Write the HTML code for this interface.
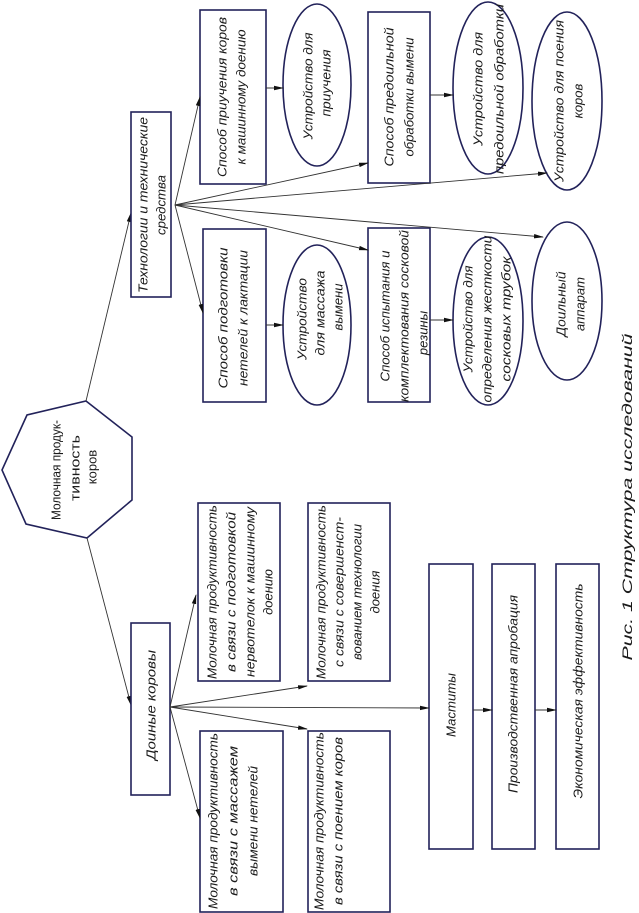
<!DOCTYPE html>
<html><head><meta charset="utf-8"><style>
html,body{margin:0;padding:0;background:#fff;}
svg{display:block;}
text{font-family:"Liberation Sans",sans-serif;font-size:13px;font-style:italic;fill:#1a1a1a;dominant-baseline:central;text-anchor:middle;}
.s{fill:none;stroke:#22225a;stroke-width:1.6;}
.l{stroke:#333;stroke-width:0.9;fill:none;}
</style></head><body>
<svg width="639" height="913" viewBox="0 0 639 913" xmlns="http://www.w3.org/2000/svg">
<defs><marker id="a" markerWidth="10" markerHeight="6" refX="9" refY="3" orient="auto" markerUnits="userSpaceOnUse"><path d="M0,0.8 L10,3 L0,5.2 z" fill="#111"/></marker></defs>

<polygon class="s" points="86,401 132,437 132,500 87,538 26,524 2,470 27,415"/>
<line class="l" x1="86" y1="401" x2="131" y2="213" marker-end="url(#a)"/>
<line class="l" x1="87" y1="538" x2="131" y2="705" marker-end="url(#a)"/>

<rect class="s" x="131" y="112" width="40" height="185"/>
<rect class="s" x="200" y="10" width="66" height="174"/>
<rect class="s" x="203" y="229" width="63" height="173"/>
<rect class="s" x="368" y="12" width="62" height="171"/>
<rect class="s" x="368" y="228" width="62" height="174"/>
<ellipse class="s" cx="317" cy="85" rx="34" ry="81"/>
<ellipse class="s" cx="317" cy="325" rx="34" ry="80"/>
<ellipse class="s" cx="488" cy="88" rx="35" ry="86"/>
<ellipse class="s" cx="488" cy="321" rx="35" ry="84"/>
<ellipse class="s" cx="567" cy="101" rx="35" ry="89"/>
<ellipse class="s" cx="567" cy="301" rx="35" ry="79"/>

<line class="l" x1="175" y1="205" x2="200" y2="97" marker-end="url(#a)"/>
<line class="l" x1="175" y1="205" x2="203" y2="313" marker-end="url(#a)"/>
<line class="l" x1="175" y1="205" x2="368" y2="163" marker-end="url(#a)"/>
<line class="l" x1="175" y1="205" x2="368" y2="250" marker-end="url(#a)"/>
<line class="l" x1="175" y1="205" x2="547" y2="173" marker-end="url(#a)"/>
<line class="l" x1="175" y1="205" x2="543" y2="237" marker-end="url(#a)"/>
<line class="l" x1="266" y1="88" x2="283" y2="88" marker-end="url(#a)"/>
<line class="l" x1="266" y1="325" x2="283" y2="325" marker-end="url(#a)"/>
<line class="l" x1="430" y1="95" x2="453" y2="95" marker-end="url(#a)"/>
<line class="l" x1="430" y1="320" x2="453" y2="320" marker-end="url(#a)"/>

<rect class="s" x="131" y="623" width="39" height="172"/>
<rect class="s" x="198" y="503" width="82" height="178"/>
<rect class="s" x="308" y="503" width="82" height="178"/>
<rect class="s" x="200" y="731" width="83" height="181"/>
<rect class="s" x="308" y="731" width="82" height="181"/>
<rect class="s" x="429" y="564" width="44" height="285"/>
<rect class="s" x="492" y="564" width="43" height="285"/>
<rect class="s" x="556" y="564" width="43" height="285"/>

<line class="l" x1="170" y1="707" x2="196" y2="595" marker-end="url(#a)"/>
<line class="l" x1="170" y1="707" x2="200" y2="818" marker-end="url(#a)"/>
<line class="l" x1="170" y1="707" x2="307" y2="686" marker-end="url(#a)"/>
<line class="l" x1="170" y1="707" x2="307" y2="729" marker-end="url(#a)"/>
<line class="l" x1="170" y1="707" x2="429" y2="708" marker-end="url(#a)"/>
<line class="l" x1="473" y1="710" x2="492" y2="710" marker-end="url(#a)"/>
<line class="l" x1="535" y1="710" x2="556" y2="710" marker-end="url(#a)"/>

<g transform="translate(0,470) rotate(-90)">
<text x="0" y="56" textLength="100" lengthAdjust="spacingAndGlyphs" style="font-style:normal">Молочная продук-</text>
<text x="2" y="75" textLength="66" lengthAdjust="spacingAndGlyphs" style="font-style:normal">тивность</text>
<text x="3" y="92" style="font-style:normal">коров</text>
</g>
<g transform="translate(0,205) rotate(-90)">
<text x="0" y="143" textLength="176" lengthAdjust="spacingAndGlyphs">Технологии и технические</text>
<text x="0" y="161" textLength="60" lengthAdjust="spacingAndGlyphs">средства</text>
</g>
<g transform="translate(0,97) rotate(-90)">
<text x="0" y="222" textLength="160" lengthAdjust="spacingAndGlyphs">Способ приучения коров</text>
<text x="0" y="241" textLength="135" lengthAdjust="spacingAndGlyphs">к машинному доению</text>
</g>
<g transform="translate(0,318) rotate(-90)">
<text x="0" y="223" textLength="141" lengthAdjust="spacingAndGlyphs">Способ подготовки</text>
<text x="0" y="243" textLength="136" lengthAdjust="spacingAndGlyphs">нетелей к лактации</text>
</g>
<g transform="translate(0,86) rotate(-90)">
<text x="0" y="308" textLength="107" lengthAdjust="spacingAndGlyphs">Устройство для</text>
<text x="3" y="326" textLength="67" lengthAdjust="spacingAndGlyphs">приучения</text>
</g>
<g transform="translate(0,319) rotate(-90)">
<text x="0" y="302" textLength="82" lengthAdjust="spacingAndGlyphs">Устройство</text>
<text x="6" y="320" textLength="85" lengthAdjust="spacingAndGlyphs">для массажа</text>
<text x="12" y="338">вымени</text>
</g>
<g transform="translate(0,97) rotate(-90)">
<text x="0" y="389" textLength="139" lengthAdjust="spacingAndGlyphs">Способ предоильной</text>
<text x="0" y="409" textLength="119" lengthAdjust="spacingAndGlyphs">обработки вымени</text>
</g>
<g transform="translate(0,316) rotate(-90)">
<text x="0" y="385" textLength="131" lengthAdjust="spacingAndGlyphs">Способ испытания и</text>
<text x="0" y="404" textLength="172" lengthAdjust="spacingAndGlyphs">комплектования сосковой</text>
<text x="-17" y="423">резины</text>
</g>
<g transform="translate(0,89) rotate(-90)">
<text x="0" y="478" textLength="114" lengthAdjust="spacingAndGlyphs">Устройство для</text>
<text x="0" y="499" textLength="170" lengthAdjust="spacingAndGlyphs">предоильной обработки</text>
</g>
<g transform="translate(0,319) rotate(-90)">
<text x="0" y="468" textLength="107" lengthAdjust="spacingAndGlyphs">Устройство для</text>
<text x="0" y="487" textLength="167" lengthAdjust="spacingAndGlyphs">определения жесткости</text>
<text x="0" y="506" textLength="125" lengthAdjust="spacingAndGlyphs">сосковых трубок</text>
</g>
<g transform="translate(0,101) rotate(-90)">
<text x="0" y="559" textLength="162" lengthAdjust="spacingAndGlyphs">Устройство для поения</text>
<text x="0" y="578">коров</text>
</g>
<g transform="translate(0,304) rotate(-90)">
<text x="0" y="561" textLength="65" lengthAdjust="spacingAndGlyphs">Доильный</text>
<text x="0" y="580">аппарат</text>
</g>
<g transform="translate(0,705) rotate(-90)">
<text x="0" y="151" textLength="110" lengthAdjust="spacingAndGlyphs">Доиные коровы</text>
</g>
<g transform="translate(0,592) rotate(-90)">
<text x="0" y="212" textLength="174" lengthAdjust="spacingAndGlyphs">Молочная продуктивность</text>
<text x="0" y="231" textLength="160" lengthAdjust="spacingAndGlyphs">в связи с подготовкой</text>
<text x="0" y="250" textLength="170" lengthAdjust="spacingAndGlyphs">нервотелок к машинному</text>
<text x="0" y="268">доению</text>
</g>
<g transform="translate(0,592) rotate(-90)">
<text x="0" y="321" textLength="174" lengthAdjust="spacingAndGlyphs">Молочная продуктивность</text>
<text x="0" y="339" textLength="150" lengthAdjust="spacingAndGlyphs">с связи с совершенст-</text>
<text x="0" y="357" textLength="136" lengthAdjust="spacingAndGlyphs">вованием технологии</text>
<text x="0" y="375">доения</text>
</g>
<g transform="translate(0,821) rotate(-90)">
<text x="0" y="213" textLength="176" lengthAdjust="spacingAndGlyphs">Молочная продуктивность</text>
<text x="0" y="233" textLength="150" lengthAdjust="spacingAndGlyphs">в связи с массажем</text>
<text x="0" y="253" textLength="110" lengthAdjust="spacingAndGlyphs">вымени нетелей</text>
</g>
<g transform="translate(0,821) rotate(-90)">
<text x="0" y="319" textLength="178" lengthAdjust="spacingAndGlyphs">Молочная продуктивность</text>
<text x="0" y="338" textLength="168" lengthAdjust="spacingAndGlyphs">в связи с поением коров</text>
</g>
<g transform="translate(0,705) rotate(-90)">
<text x="0" y="451" textLength="64" lengthAdjust="spacingAndGlyphs">Маститы</text>
</g>
<g transform="translate(0,694) rotate(-90)">
<text x="0" y="513" textLength="198" lengthAdjust="spacingAndGlyphs">Производственная апробация</text>
</g>
<g transform="translate(0,691) rotate(-90)">
<text x="0" y="578" textLength="215" lengthAdjust="spacingAndGlyphs">Экономическая эффективность</text>
</g>
<g transform="translate(0,497) rotate(-90)">
<text x="0" y="627" textLength="327" lengthAdjust="spacingAndGlyphs" style="font-size:14px">Рис. 1 Структура  исследований</text>
</g>
</svg>
</body></html>
